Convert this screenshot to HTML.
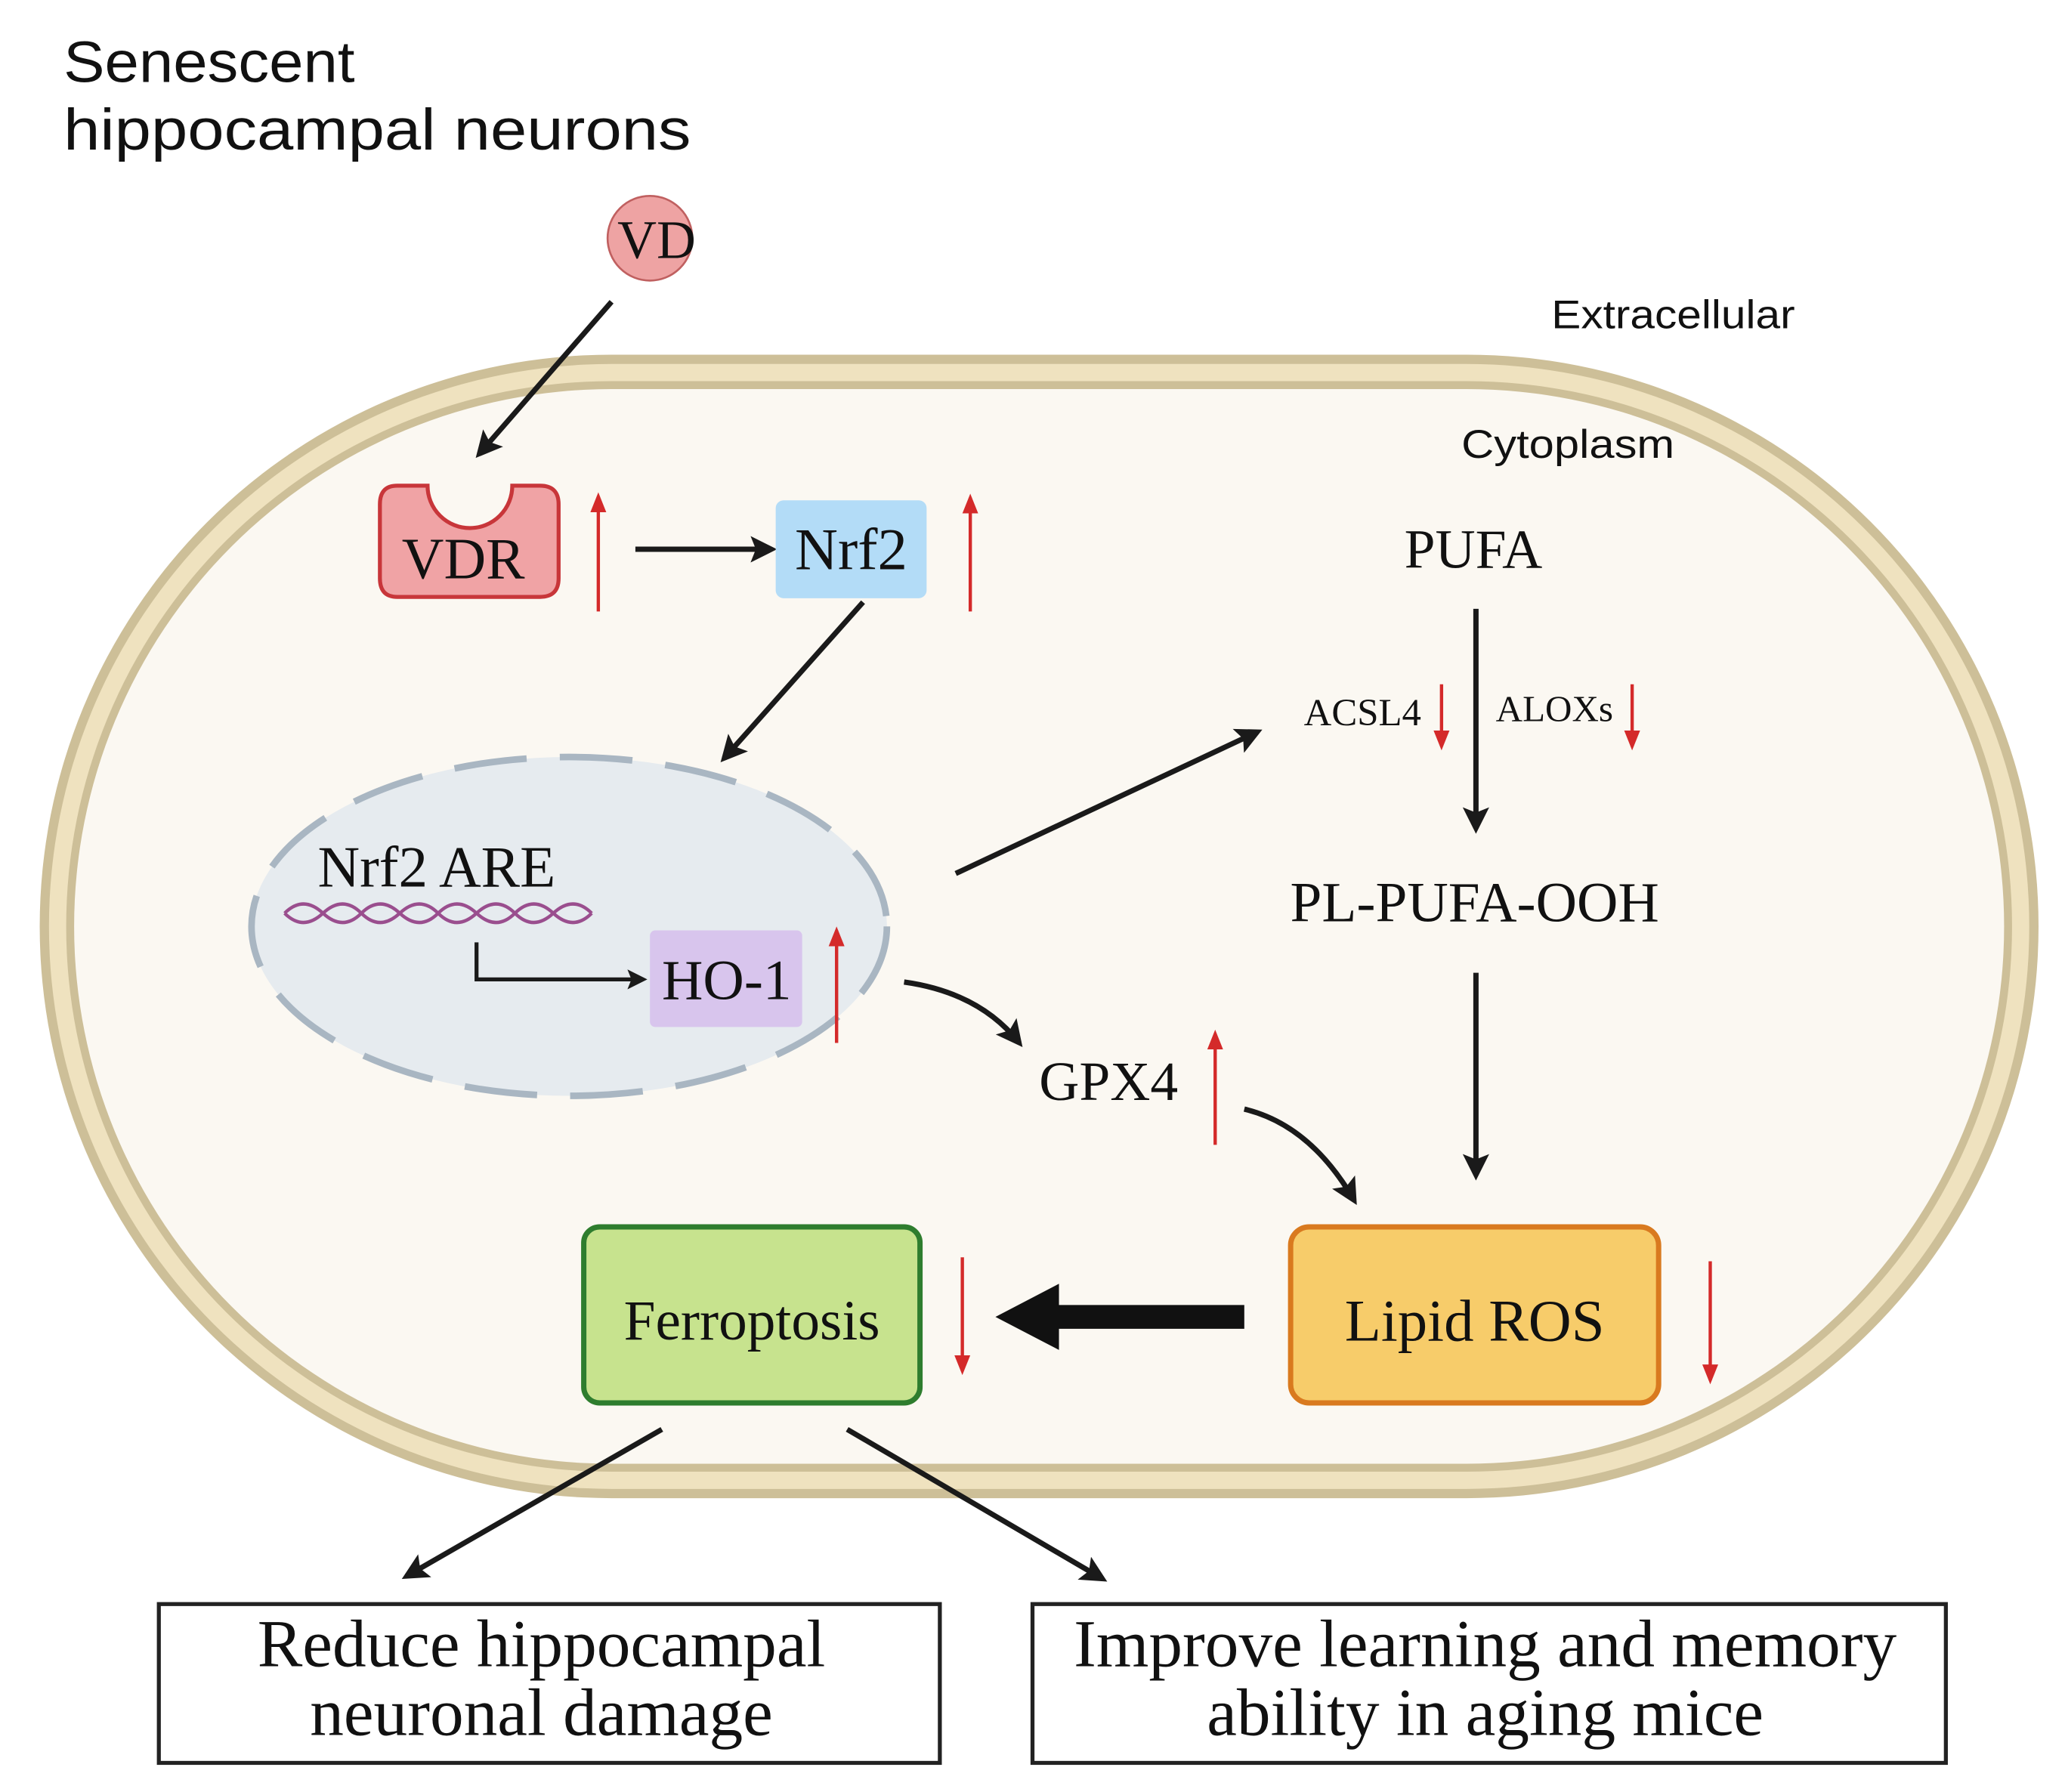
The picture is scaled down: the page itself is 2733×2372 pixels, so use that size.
<!DOCTYPE html>
<html><head><meta charset="utf-8"><style>html,body{margin:0;padding:0;background:#fff}svg{display:block}</style></head><body>
<svg width="2733" height="2372" viewBox="0 0 1560 1354" preserveAspectRatio="none" xmlns="http://www.w3.org/2000/svg">
<defs>
<marker id="ah" viewBox="0 0 10 10" refX="8" refY="5" markerWidth="5" markerHeight="5" orient="auto"><path d="M0,0 L10,5 L0,10 L2,5 z" fill="#1a1a1a"/></marker>
<marker id="rh" viewBox="0 0 10 10" refX="8" refY="5" markerWidth="6" markerHeight="6" orient="auto"><path d="M0,1 L10,5 L0,9 z" fill="#d42a2a"/></marker>
</defs>
<rect width="1560" height="1354" fill="#fff"/>
<g font-family="Liberation Sans, DejaVu Sans, sans-serif" fill="#111">
<text x="48" y="62" font-size="44" textLength="220" lengthAdjust="spacingAndGlyphs">Senescent</text>
<text x="48" y="113" font-size="44" textLength="474" lengthAdjust="spacingAndGlyphs">hippocampal neurons</text>
<text x="1172" y="248" font-size="30" textLength="184" lengthAdjust="spacingAndGlyphs">Extracellular</text>
</g>
<!-- cell -->
<rect x="30" y="268" width="1510" height="864" rx="432" fill="#cdbf98"/>
<rect x="37" y="275" width="1496" height="850" rx="425" fill="#efe2bf"/>
<rect x="50" y="288" width="1470" height="824" rx="412" fill="#cdbf98"/>
<rect x="56" y="294" width="1458" height="812" rx="406" fill="#fbf8f2"/>
<text x="1104" y="346" font-size="30" textLength="161" lengthAdjust="spacingAndGlyphs" font-family="Liberation Sans, sans-serif" fill="#111">Cytoplasm</text>
<!-- VD -->
<circle cx="491" cy="180" r="32" fill="#eea3a3" stroke="#c06060" stroke-width="1.5"/>
<g stroke="#1a1a1a" stroke-width="4" fill="none" marker-end="url(#ah)">
<line x1="462" y1="228" x2="362" y2="343"/>
<line x1="480" y1="415" x2="583" y2="415"/>
<line x1="652" y1="455" x2="547" y2="573"/>
<line x1="722" y1="660" x2="950" y2="553"/>
<path d="M683,742 Q740,750 770,788"/>
<path d="M940,838 Q990,850 1023,907"/>
<line x1="1115" y1="460" x2="1115" y2="626"/>
<line x1="1115" y1="735" x2="1115" y2="888"/>
<line x1="500" y1="1080" x2="307" y2="1191"/>
<line x1="640" y1="1080" x2="833" y2="1193"/>
</g>
<!-- VDR -->
<path d="M300,367 L323,367 A32,32 0 0 0 387,367 L408,367 Q422,367 422,381 L422,437 Q422,451 408,451 L300,451 Q287,451 287,437 L287,381 Q287,367 300,367 z" fill="#f0a3a5" stroke="#c8363a" stroke-width="3"/>
<rect x="586" y="378" width="114" height="74" rx="6" fill="#b3dcf7"/>
<ellipse cx="430" cy="700" rx="240" ry="128" fill="#e6ebef" stroke="#a9b6c2" stroke-width="5" stroke-dasharray="55 25"/>
<g stroke="#9a4e8e" stroke-width="2.5" fill="none">
<path d="M215,690 q14,-14 29,0 t29,0 t29,0 t29,0 t29,0 t29,0 t29,0 t29,0"/>
<path d="M215,690 q14,14 29,0 t29,0 t29,0 t29,0 t29,0 t29,0 t29,0 t29,0"/>
</g>
<path d="M360,712 L360,740 L486,740" stroke="#1a1a1a" stroke-width="3" fill="none" marker-end="url(#ah)"/>
<rect x="491" y="703" width="115" height="73" rx="4" fill="#d8c5ed"/>
<rect x="975" y="927" width="278" height="133" rx="14" fill="#f7cc6a" stroke="#d97a1f" stroke-width="4"/>
<rect x="441" y="927" width="254" height="133" rx="12" fill="#c7e38e" stroke="#2e7d2e" stroke-width="4"/>
<path d="M940,986 L800,986 L800,970 L752,995 L800,1020 L800,1004 L940,1004 z" fill="#111"/>
<g stroke="#d42a2a" stroke-width="2.5" fill="none">
<line x1="452" y1="462" x2="452" y2="375" marker-end="url(#rh)"/>
<line x1="733" y1="462" x2="733" y2="376" marker-end="url(#rh)"/>
<line x1="632" y1="788" x2="632" y2="703" marker-end="url(#rh)"/>
<line x1="918" y1="865" x2="918" y2="781" marker-end="url(#rh)"/>
<line x1="1089" y1="517" x2="1089" y2="564" marker-end="url(#rh)"/>
<line x1="1233" y1="517" x2="1233" y2="564" marker-end="url(#rh)"/>
<line x1="1292" y1="953" x2="1292" y2="1043" marker-end="url(#rh)"/>
<line x1="727" y1="950" x2="727" y2="1036" marker-end="url(#rh)"/>
</g>
<g font-family="Liberation Serif, serif" fill="#111">
<text x="496" y="195" font-size="41" text-anchor="middle">VD</text>
<text x="350" y="437" font-size="44" text-anchor="middle">VDR</text>
<text x="643" y="430" font-size="45" text-anchor="middle">Nrf2</text>
<text x="240" y="670" font-size="44">Nrf2 ARE</text>
<text x="549" y="755" font-size="43" text-anchor="middle">HO-1</text>
<text x="785" y="831" font-size="42">GPX4</text>
<text x="1113" y="429" font-size="42" text-anchor="middle">PUFA</text>
<text x="985" y="548" font-size="29">ACSL4</text>
<text x="1130" y="545" font-size="28">ALOXs</text>
<text x="1114" y="696" font-size="43" text-anchor="middle">PL-PUFA-OOH</text>
<text x="1114" y="1013" font-size="45" text-anchor="middle">Lipid ROS</text>
<text x="568" y="1012" font-size="43" text-anchor="middle">Ferroptosis</text>
</g>
<rect x="120" y="1212" width="590" height="120" fill="#fff" stroke="#222" stroke-width="3"/>
<rect x="780" y="1212" width="690" height="120" fill="#fff" stroke="#222" stroke-width="3"/>
<g font-family="Liberation Serif, serif" fill="#111" font-size="51" text-anchor="middle">
<text x="409" y="1259">Reduce hippocampal</text>
<text x="409" y="1311">neuronal damage</text>
<text x="1122" y="1259">Improve learning and memory</text>
<text x="1122" y="1311">ability in aging mice</text>
</g>
</svg>
</body></html>
